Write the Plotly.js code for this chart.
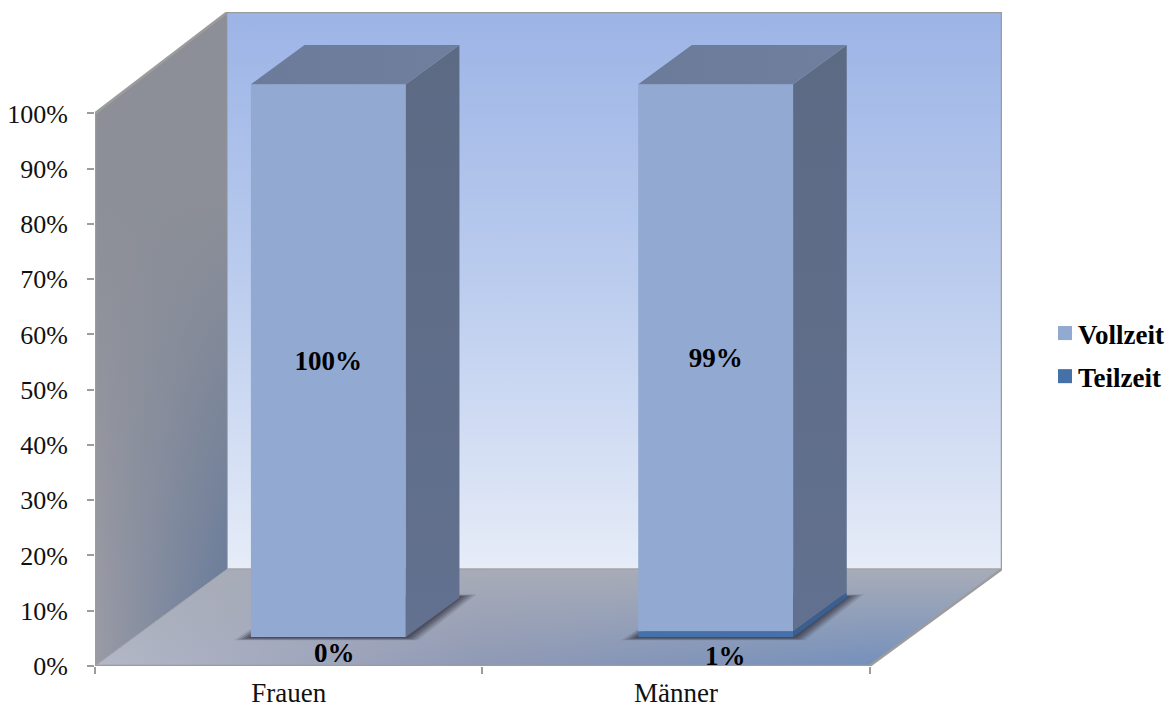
<!DOCTYPE html>
<html>
<head>
<meta charset="utf-8">
<script src="https://cdn.plot.ly/plotly-3.0.1.min.js"></script>
<style>html,body{margin:0;padding:0;background:#fff}#chart{width:1170px;height:709px}</style>
</head>
<body>
<div id="chart"></div>
<script>
// Employment split by gender
var categories = ['Frauen', 'Männer'];
var vollzeit = [1.00, 0.99];
var teilzeit = [0.00, 0.01];
var percentTicks = [0, 0.1, 0.2, 0.3, 0.4, 0.5, 0.6, 0.7, 0.8, 0.9, 1];

// Oblique projection: a point at depth d moves by d*DX, d*DY in axis units.
var DX = 132.5 / 387.5, DY = 97 / 553;
var X_MAX = 2 + DX, Y_MAX = 654.5 / 553;
var BAR_WIDTH = 0.4, BAR_FRONT = 0.30, BAR_BACK = 0.705;

var FONT = '"Liberation Serif", "Times New Roman", serif';

function percent(v) { return Math.round(v * 100) + '%'; }

function poly(points, style, axes) {
  var t = {
    x: points.map(function (p) { return p[0]; }).concat(points[0][0]),
    y: points.map(function (p) { return p[1]; }).concat(points[0][1]),
    mode: 'lines', fill: 'toself', line: { width: 0 },
    hoverinfo: 'skip', showlegend: false, cliponaxis: false
  };
  if (axes) { t.xaxis = 'x2'; t.yaxis = 'y2'; }
  for (var k in style) t[k] = style[k];
  return t;
}
function grad(type, start, stop, c0, c1, c2) {
  var scale = c2 ? [[0, c0], [0.5, c1], [1, c2]] : [[0, c0], [1, c1]];
  return { fillgradient: { type: type, start: start, stop: stop, colorscale: scale } };
}
function edge(points, color, width) {
  return {
    x: points.map(function (p) { return p[0]; }),
    y: points.map(function (p) { return p[1]; }),
    mode: 'lines', line: { color: color, width: width },
    hoverinfo: 'skip', showlegend: false, cliponaxis: false
  };
}

var traces = [];

// Room: back wall, side wall and floor
var backWall = [[DX, DY], [X_MAX, DY], [X_MAX, Y_MAX], [DX, Y_MAX]];
var sideWall = [[0, 0], [DX, DY], [DX, Y_MAX], [0, 1]];
var floor = [[0, 0], [2, 0], [X_MAX, DY], [DX, DY]];

traces.push(poly(backWall, grad('vertical', DY, Y_MAX, '#e6ecf8', '#bccdee', '#9cb4e6')));
traces.push(poly(sideWall, grad('horizontal', 0, DX, '#9a9ba5', '#667a9b')));
traces.push(poly(sideWall, grad('vertical', 0.05, 0.85, 'rgba(142,144,152,0)', 'rgba(140,143,151,1)')));
traces.push(poly(floor, grad('horizontal', 0, 2, '#b4b8c7', '#8f99b5', '#7590bc')));
traces.push(poly(floor, grad('vertical', 0, DY, 'rgba(168,172,184,0)', 'rgba(168,172,184,1)')));

// Soft contact shadows on the floor, nested from wide and faint to tight and dark
categories.forEach(function (c, i) {
  var x0 = i + 0.5 - BAR_WIDTH / 2 + BAR_FRONT * DX;
  var x1 = x0 + BAR_WIDTH;
  var ox = (BAR_BACK - BAR_FRONT) * DX, oy = (BAR_BACK - BAR_FRONT) * DY;
  var low = BAR_FRONT * DY;
  [[0.044, 0.006, 0.16], [0.034, 0.005, 0.24], [0.024, 0.004, 0.32], [0.014, 0.003, 0.38], [0.006, 0.002, 0.38]].forEach(function (s) {
    traces.push(poly([
      [x0 - s[0], low - s[1]],
      [x1 + s[0] * 0.7, low - s[1]],
      [x1 + ox + s[0], low + oy + s[1]],
      [x0 + ox, low + oy + s[1]]
    ], { fillcolor: 'rgba(58,60,76,' + s[2] + ')' }));
  });
});

// Room outlines
traces.push(edge([[DX, DY], [X_MAX, DY]], '#a3a5a9', 1.5));
traces.push(edge([[DX, DY], [DX, Y_MAX]], '#a7abb3', 1));
traces.push(edge([[0, 0], [DX, DY]], '#9fa3ab', 1));
traces.push(edge([[0, 1], [DX, Y_MAX], [X_MAX, Y_MAX], [X_MAX, DY], [2, 0], [0, 0], [0, 1]], '#9c9c9c', 2.5));

// Front faces of the columns
var barX = categories.map(function (c, i) { return i + 0.5 + BAR_FRONT * DX; });
var barBase = BAR_FRONT * DY;

traces.push({
  type: 'bar', name: 'Vollzeit', legendgroup: 'v',
  x: barX, y: vollzeit, base: teilzeit.map(function (t) { return barBase + t; }),
  width: BAR_WIDTH, xaxis: 'x2', yaxis: 'y2',
  marker: { color: '#92a9d1', line: { width: 0 } },
  text: vollzeit.map(percent), textposition: 'inside', insidetextanchor: 'middle',
  textangle: 0, constraintext: 'none', cliponaxis: false,
  textfont: { family: FONT, size: 27, color: '#000', weight: 'bold' }, hoverinfo: 'skip'
});
traces.push({
  type: 'bar', name: 'Teilzeit', legendgroup: 't',
  x: barX, y: teilzeit, base: teilzeit.map(function () { return barBase; }),
  width: BAR_WIDTH, xaxis: 'x2', yaxis: 'y2',
  marker: { color: '#4670a8', line: { width: 0 } },
  cliponaxis: false, hoverinfo: 'skip'
});

// Top and right faces of the columns
categories.forEach(function (c, i) {
  var x1 = barX[i] + BAR_WIDTH / 2, x0 = barX[i] - BAR_WIDTH / 2;
  var d = BAR_BACK - BAR_FRONT, ox = d * DX, oy = d * DY;
  var low = barBase, mid = barBase + teilzeit[i], top = mid + vollzeit[i];
  traces.push(poly([[x1, mid], [x1 + ox, mid + oy], [x1 + ox, top + oy], [x1, top]],
    grad('vertical', low, top + oy, '#62718f', '#5d6a84'), true));
  if (teilzeit[i] > 0) {
    traces.push(poly([[x1, low], [x1 + ox, low + oy], [x1 + ox, mid + oy], [x1, mid]],
      { fillcolor: '#3a5f92' }, true));
  }
  traces.push(poly([[x0, top], [x1, top], [x1 + ox, top + oy], [x0 + ox, top + oy]],
    grad('horizontal', x0, x1 + ox, '#6c7b9a', '#707f9e'), true));
});

// Part-time value labels sit just in front of each column
var labelNudge = [[0.015, -0.029], [0.026, -0.034]];
var annotations = categories.map(function (c, i) {
  return {
    xref: 'x2', yref: 'y2', x: barX[i] + labelNudge[i][0], y: barBase + labelNudge[i][1],
    text: '<b>' + percent(teilzeit[i]) + '</b>', showarrow: false,
    font: { family: FONT, size: 27, color: '#000' }
  };
});

var layout = {
  width: 1170, height: 709,
  margin: { l: 95, r: 167.5, t: 12, b: 42.5, pad: 0 },
  paper_bgcolor: '#fff', plot_bgcolor: 'rgba(0,0,0,0)',
  barmode: 'overlay', showlegend: true,
  font: { family: FONT },
  xaxis: {
    range: [0, X_MAX], showgrid: false, zeroline: false, showline: false,
    tickmode: 'array', tickvals: [0.5, 1.5], ticktext: categories, ticks: '',
    tickfont: { family: FONT, size: 27, color: '#111' }, ticklabelstandoff: 8,
    minor: { tickmode: 'array', tickvals: [0, 1, 2], ticks: 'outside', ticklen: 7, tickwidth: 1.5, tickcolor: '#9c9c9c' }
  },
  yaxis: {
    range: [0, Y_MAX], showgrid: false, zeroline: false, showline: false,
    tickmode: 'array', tickvals: percentTicks, ticktext: percentTicks.map(percent),
    ticks: 'outside', ticklen: 7, tickwidth: 1.5, tickcolor: '#9c9c9c',
    tickfont: { family: FONT, size: 26, color: '#111' }, ticklabelstandoff: 14
  },
  xaxis2: { overlaying: 'x', anchor: 'y2', range: [0, X_MAX], visible: false },
  yaxis2: { overlaying: 'y', anchor: 'x2', range: [0, Y_MAX], visible: false },
  legend: {
    xref: 'container', yref: 'container',
    x: 1038 / 1170, xanchor: 'left', y: 1 - 355 / 709, yanchor: 'middle',
    font: { family: FONT, size: 27, color: '#000', weight: 'bold' },
    tracegroupgap: 5, bgcolor: 'rgba(0,0,0,0)', itemclick: false, itemdoubleclick: false
  },
  annotations: annotations
};

Plotly.newPlot('chart', traces, layout, { displayModeBar: false, responsive: false }).then(function () {
  // Sit the legend swatches closer to their labels and size them up slightly.
  document.querySelectorAll('.legend .legendsymbols').forEach(function (g) {
    g.setAttribute('transform', 'translate(7,0)');
    g.querySelectorAll('path').forEach(function (p) {
      p.setAttribute('transform', (p.getAttribute('transform') || '') + ' scale(1.17)');
    });
  });
});
</script>
</body>
</html>
